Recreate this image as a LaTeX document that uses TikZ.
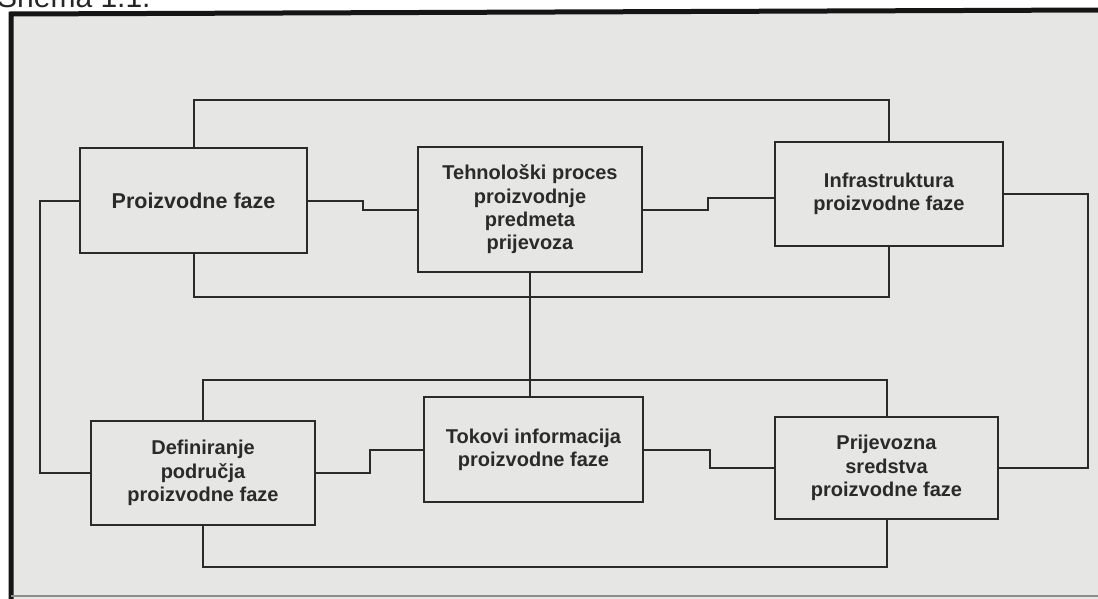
\documentclass[tikz,border=0pt]{standalone}
\usepackage{fontspec}
\setmainfont{Liberation Sans}
\definecolor{ink}{HTML}{2A2A2A}
\definecolor{paper}{HTML}{E6E6E4}
\definecolor{frame}{HTML}{151515}
\tikzset{
  box/.style={draw=ink, line width=2pt, fill=paper, inner sep=0pt, outer sep=0pt,
    align=center, text=ink, font=\bfseries\fontsize{20}{23.3}\selectfont},
  bigtext/.style={font=\bfseries\fontsize{21.5}{23.3}\selectfont},
  link/.style={draw=ink, line width=2pt}
}
\begin{document}
\begin{tikzpicture}[x=1pt,y=-1pt]
\clip (0,0) rectangle (1098,599);
\fill[white] (0,0) rectangle (1098,599);
% title (cut off at the top, as in the scan)
\node[anchor=base west, inner sep=0pt, text=black!85, font=\fontsize{30}{30}\selectfont] (title) at (-3,8) {Shema 1.1.};
% frame
\fill[paper] (11,13) rectangle (1098,599);
\draw[frame, line width=5pt] (11,601) -- (11,14) -- (1100,10);
\draw[black!45, line width=2pt] (11,596) -- (1098,596);
% boxes
\node[box, bigtext, minimum width=227pt, minimum height=105pt] (b1) at (193.5,200.5) {Proizvodne faze};
\node[box, minimum width=224pt, minimum height=125pt] (b2) at (530,209.5) {Tehnološki proces\\proizvodnje\\predmeta\\prijevoza};
\node[box, minimum width=228pt, minimum height=104pt] (b3) at (889,194) {Infrastruktura\\proizvodne faze};
\node[box, minimum width=224pt, minimum height=104pt] (b4) at (203,473) {Definiranje\\područja\\proizvodne faze};
\node[box, minimum width=219pt, minimum height=105pt] (b5) at (533.5,449.5) {Tokovi informacija\\proizvodne faze};
\node[box, minimum width=223pt, minimum height=102pt] (b6) at (886.5,468) {Prijevozna\\sredstva\\proizvodne faze};
% helper coordinates
\coordinate (t1) at (540,100);
\coordinate (t2) at (540,297);
\coordinate (t3) at (540,380);
\coordinate (t4) at (540,567);
\coordinate (cr) at (1088,330);
\coordinate (cl) at (40,340);
% connectors
\draw[link] (b1.north) |- (t1) -| (b3.north);
\draw[link] (b1.south) |- (t2) -| (b3.south);
\draw[link] (b4.north) |- (t3) -| (b6.north);
\draw[link] (b4.south) |- (t4) -| (b6.south);
\draw[link] (b1.east) -- ++(56,0) |- (b2.west);
\draw[link] (b2.east) -- ++(66,0) |- ([yshift=-4pt]b3.west);
\draw[link] (b3.east) -| (cr) |- (b6.east);
\draw[link] (b1.west) -| (cl) |- (b4.west);
\draw[link] (b2.south) -- (b2.south |- b5.north);
\draw[link] (b4.east) -- ++(55,0) |- (b5.west);
\draw[link] (b5.east) -- ++(67,0) |- (b6.west);
\end{tikzpicture}
\end{document}
